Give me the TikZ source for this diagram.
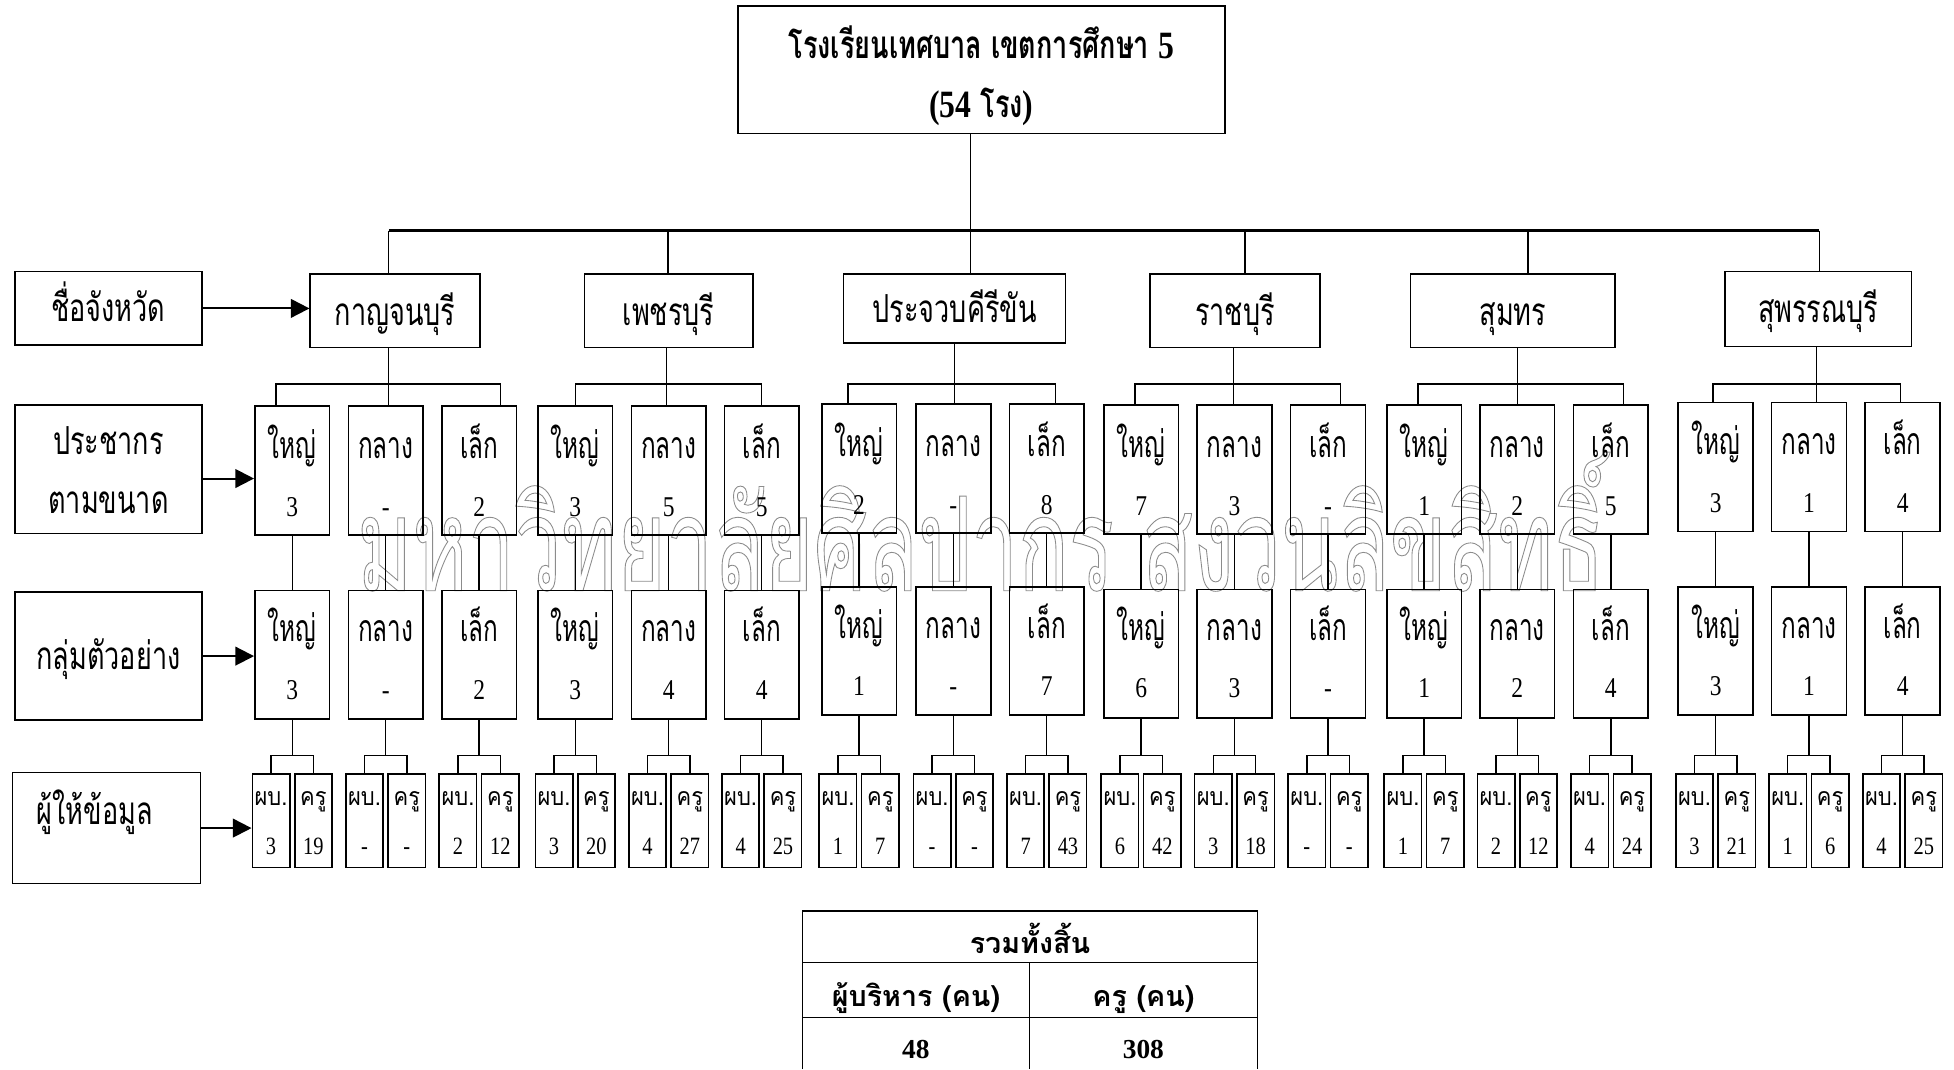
\documentclass[tikz,border=0pt]{standalone}
\usepackage{fontspec}
\usetikzlibrary{arrows.meta,calc}
\newfontfamily\thai[Script=Thai,FakeStretch=0.65]{Loma}
\newfontfamily\thaiL[Script=Thai,FakeStretch=0.7]{Loma}
\newfontfamily\thaiS[Script=Thai,FakeStretch=0.88]{Loma}
\newfontfamily\thaiW[Script=Thai,FakeStretch=0.64]{Loma}
\newfontfamily\thaiT[Script=Thai]{Loma}
\newfontfamily\numf[FakeStretch=0.82]{Liberation Serif}
\newfontfamily\numT{Liberation Serif}
\newcommand\mkbox[5]{%
  \pgfmathsetmacro\myBW{(#4)-(#2)}\pgfmathsetmacro\myBH{(#5)-(#3)}%
  \pgfmathsetmacro\myBX{((#2)+(#4))/2}\pgfmathsetmacro\myBY{((#3)+(#5))/2}%
  \node[box,minimum width=\myBW pt,minimum height=\myBH pt] (#1) at (\myBX,\myBY) {};}
\begin{document}
\begin{tikzpicture}[x=1pt,y=-1pt,
 box/.style={draw,line width=1.3pt,inner sep=0pt},
 ln/.style={line width=1.1pt},
 busln/.style={line width=2pt},
 arr/.style={line width=1.6pt,-{Triangle[length=15pt,width=15pt]}},
 th/.style={font=\thai\fontsize{30}{32}\selectfont,anchor=base,inner sep=0pt},
 thl/.style={font=\thaiL\fontsize{31}{33}\selectfont,anchor=base,inner sep=0pt},
 thb/.style={font=\thaiL\bfseries\fontsize{31}{33}\selectfont,anchor=base,inner sep=0pt},
 nm/.style={font=\numf\fontsize{23}{25}\selectfont,anchor=base,inner sep=0pt},
 ths/.style={font=\thaiS\fontsize{20}{22}\selectfont,anchor=base,inner sep=0pt},
 nms/.style={font=\numf\fontsize{20}{22}\selectfont,anchor=base,inner sep=0pt},
 tht/.style={font=\thaiT\bfseries\fontsize{23}{26}\selectfont,anchor=base,inner sep=0pt},
 nmt/.style={font=\numT\bfseries\fontsize{22}{24}\selectfont,anchor=base,inner sep=0pt},
 wm/.style={font=\thaiW\fontsize{105}{110}\selectfont,anchor=base,inner sep=0pt,text=black!45},
]
\useasboundingbox (0,0) rectangle (1568,858);
% watermark
\node[wm] (wmark) at (787,474) {\special{pdf:literal direct 1 Tr 0.7 w}มหาวิทยาลัยศิลปากร สงวนลิขสิทธิ์\special{pdf:literal direct 0 Tr}};
% top box
\mkbox{top}{592}{5}{983}{107}
\node[thb] (top-l1) at (787.5,47) {โรงเรียนเทศบาล เขตการศึกษา {\numf 5}};
\node[thb] (top-l2) at (787.5,94) {{\numf (54} โรง{\numf )}};
% left labels
\mkbox{L1}{12}{218}{162}{277}
\node[thl] (L1-t) at (87,258) {ชื่อจังหวัด};
\mkbox{L2}{12}{325}{162}{428}
\node[thl] (L2-t1) at (87,365) {ประชากร};
\node[thl] (L2-t2) at (87,412) {ตามขนาด};
\mkbox{L3}{12}{475}{162}{578}
\node[thl] (L3-t) at (87,537) {กลุ่มตัวอย่าง};
\mkbox{L4}{10}{620}{161}{709}
\node[thl] (L4-t) at (76,662) {ผู้ให้ข้อมูล};
% provinces
\mkbox{p1}{249}{220}{385}{279}
\node[thl] (p1-t) at (317,261) {กาญจนบุรี};
\mkbox{p2}{469}{220}{604}{279}
\node[thl] (p2-t) at (536.5,261) {เพชรบุรี};
\mkbox{p3}{677}{220}{855}{275}
\node[thl] (p3-t) at (766,259) {ประจวบคีรีขัน};
\mkbox{p4}{923}{220}{1059}{279}
\node[thl] (p4-t) at (991,261) {ราชบุรี};
\mkbox{p5}{1132}{220}{1296}{279}
\node[thl] (p5-t) at (1214,261) {สุมทร};
\mkbox{p6}{1384}{218}{1534}{278}
\node[thl] (p6-t) at (1459,259) {สุพรรณบุรี};
% columns
\foreach \g/\s/\cx/\ta/\tb/\lab/\na/\nb/\pb/\kr in {
 1/a/234.5/326/474/ใหญ่/3/3/3/19,
 1/b/309.5/326/474/กลาง/-/-/-/-,
 1/c/384.5/326/474/เล็ก/2/2/2/12,
 2/a/461.6/326/474/ใหญ่/3/3/3/20,
 2/b/536.6/326/474/กลาง/5/4/4/27,
 2/c/611.3/326/474/เล็ก/5/4/4/25,
 3/a/689.4/324/471/ใหญ่/2/1/1/7,
 3/b/765/324/471/กลาง/-/-/-/-,
 3/c/840/324/471/เล็ก/8/7/7/43,
 4/a/915.7/325/473/ใหญ่/7/6/6/42,
 4/b/990.6/325/473/กลาง/3/3/3/18,
 4/c/1065.7/325/473/เล็ก/-/-/-/-,
 5/a/1142.8/325/473/ใหญ่/1/1/1/7,
 5/b/1217.5/325/473/กลาง/2/2/2/12,
 5/c/1292.6/325/473/เล็ก/5/4/4/24,
 6/a/1376.7/323/471/ใหญ่/3/3/3/21,
 6/b/1451.6/323/471/กลาง/1/1/1/6,
 6/c/1526.8/323/471/เล็ก/4/4/4/25}{
  \mkbox{r2-\g\s}{\cx-30}{\ta}{\cx+30}{\ta+103.5}
  \node[th] (r2-\g\s-l) at (\cx,\ta+42) {\lab};
  \node[nm] (r2-\g\s-n) at (\cx,\ta+88.5) {\na};
  \mkbox{r3-\g\s}{\cx-30}{\tb}{\cx+30}{\tb+103}
  \node[th] (r3-\g\s-l) at (\cx,\tb+41) {\lab};
  \node[nm] (r3-\g\s-n) at (\cx,\tb+87) {\nb};
  \draw[ln] (r2-\g\s.south) -- (r3-\g\s.north);
  \mkbox{pb-\g\s}{\cx-32}{621}{\cx-2}{696}
  \mkbox{kr-\g\s}{\cx+2}{621}{\cx+32}{696}
  \node[ths] (pb-\g\s-l) at (\cx-17,646) {ผบ.};
  \node[nms] (pb-\g\s-n) at (\cx-17,686) {\pb};
  \node[ths] (kr-\g\s-l) at (\cx+17,646) {ครู};
  \node[nms] (kr-\g\s-n) at (\cx+17,686) {\kr};
  \coordinate (br-\g\s) at (\cx,606);
  \draw[ln] (r3-\g\s.south) -- (br-\g\s);
  \draw[ln] (pb-\g\s.north) |- (br-\g\s) -| (kr-\g\s.north);
}
% group brackets
\foreach \g/\ax/\bx/\lo/\ro in {1/312/312/-13/17, 2/536/535/0/0, 3/779/766/-9/7,
  4/999/990/-5/10, 5/1226/1217.6/-5/10, 6/1460/1457.5/-2/-2}{
  \coordinate (up-\g) at (\ax,185);
  \draw[ln] (up-\g) -- (up-\g |- p\g.north);
  \coordinate (dn-\g) at (\bx,308);
  \draw[ln] (dn-\g |- p\g.south) -- (dn-\g) -- (dn-\g |- r2-\g b.north);
  \coordinate (la-\g) at ($(r2-\g a.north)+(\lo,0)$);
  \coordinate (ra-\g) at ($(r2-\g c.north)+(\ro,0)$);
  \draw[ln] (la-\g) |- (dn-\g) -| (ra-\g);
}
% bus and top stem
\draw[busln] (up-1) -- (up-6);
\draw[ln] (up-3 |- top.south) -- (up-3);
% arrows
\draw[arr] (L1.east) -- (L1.east -| p1.west);
\coordinate (a2) at ($(L2.east)+(0,7.5)$);
\draw[arr] (a2) -- (a2 -| r2-1a.west);
\draw[arr] (L3.east) -- (L3.east -| r3-1a.west);
\draw[arr] (L4.east) -- (L4.east -| pb-1a.west);
% summary table
\coordinate (tA) at (644,731);
\coordinate (tB) at (1009,731);
\coordinate (tC) at (644,858);
\coordinate (tD) at (1009,858);
\coordinate (tM1) at (826,772.5);
\coordinate (tM2) at (826,858);
\draw[line width=1.3pt] (tC) -- (tA) -- (tB) -- (tD);
\draw[line width=1.3pt] (tA |- tM1) -- (tB |- tM1);
\draw[line width=1.3pt] (644,816.4) coordinate (tR) -- (tR -| tB);
\draw[line width=1.3pt] (tM1) -- (tM2);
\node[tht] (t-h) at (826.5,765) {รวมทั้งสิ้น};
\node[tht] (t-c1) at (735,808) {ผู้บริหาร (คน)};
\node[tht] (t-c2) at (917.5,808) {ครู (คน)};
\node[nmt] (t-v1) at (735,849) {48};
\node[nmt] (t-v2) at (917.5,849) {308};
\end{tikzpicture}
\end{document}
